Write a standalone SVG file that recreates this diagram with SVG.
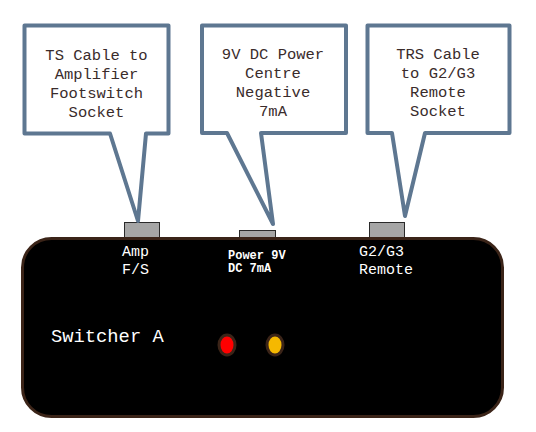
<svg xmlns="http://www.w3.org/2000/svg" width="536" height="432" viewBox="0 0 536 432">
<style>
.callout{fill:#fff;stroke:#5e7791;stroke-width:4;stroke-linejoin:round}
.ct{font-family:"Liberation Mono",monospace;font-size:15.5px;fill:#3a2c2c;text-anchor:middle}
.lbl{font-family:"Liberation Mono",monospace;font-size:15px;fill:#fff}
.sml{font-family:"Liberation Mono",monospace;font-size:12px;fill:#fff;font-weight:bold}
.jack{fill:#a6a6a6;stroke:#2a2a2a;stroke-width:1}
.led{stroke:#3b2418;stroke-width:3}
</style>
<rect width="536" height="432" fill="#fff"/>
<g id="jacks">
<rect class="jack" x="124.5" y="222.5" width="35" height="16"/>
<rect class="jack" x="239.5" y="230.5" width="36" height="8"/>
<rect class="jack" x="369.5" y="222.5" width="35" height="16"/>
</g>
<g id="switcher">
<rect x="22.5" y="238.5" width="480" height="178" rx="29" fill="#000" stroke="#3b2418" stroke-width="3"/>
<text class="lbl" x="122" y="256">Amp</text>
<text class="lbl" x="122" y="274">F/S</text>
<text class="sml" x="228" y="259">Power 9V</text>
<text class="sml" x="228" y="272">DC 7mA</text>
<text class="lbl" x="359" y="256">G2/G3</text>
<text class="lbl" x="359" y="274">Remote</text>
<text x="51" y="342" font-family="Liberation Mono, monospace" font-size="18.8" fill="#fff">Switcher A</text>
<ellipse class="led" cx="227" cy="345" rx="8" ry="10" fill="#ff0000"/>
<ellipse class="led" cx="275" cy="345" rx="8" ry="10" fill="#f5b800"/>
</g>
<g id="connectors">
<g id="callout-amp">
<path class="callout" d="M24.5,25.5 H168.5 V133.5 H146 L138,221 L110,133.5 H24.5 Z"/>
<text class="ct" x="96.5" y="60">TS Cable to</text>
<text class="ct" x="96.5" y="79">Amplifier</text>
<text class="ct" x="96.5" y="98">Footswitch</text>
<text class="ct" x="96.5" y="117">Socket</text>
</g>
<g id="callout-power">
<path class="callout" d="M202,25.5 H346 V133 H261 L273,224 L227,133 H202 Z"/>
<text class="ct" x="273" y="59">9V DC Power</text>
<text class="ct" x="273" y="78">Centre</text>
<text class="ct" x="273" y="97">Negative</text>
<text class="ct" x="273" y="116">7mA</text>
</g>
<g id="callout-remote">
<path class="callout" d="M367.5,25.5 H509.5 V133 H425 L405,216 L392,133 H367.5 Z"/>
<text class="ct" x="438" y="59">TRS Cable</text>
<text class="ct" x="438" y="78">to G2/G3</text>
<text class="ct" x="438" y="97">Remote</text>
<text class="ct" x="438" y="116">Socket</text>
</g>
</g>
</svg>
